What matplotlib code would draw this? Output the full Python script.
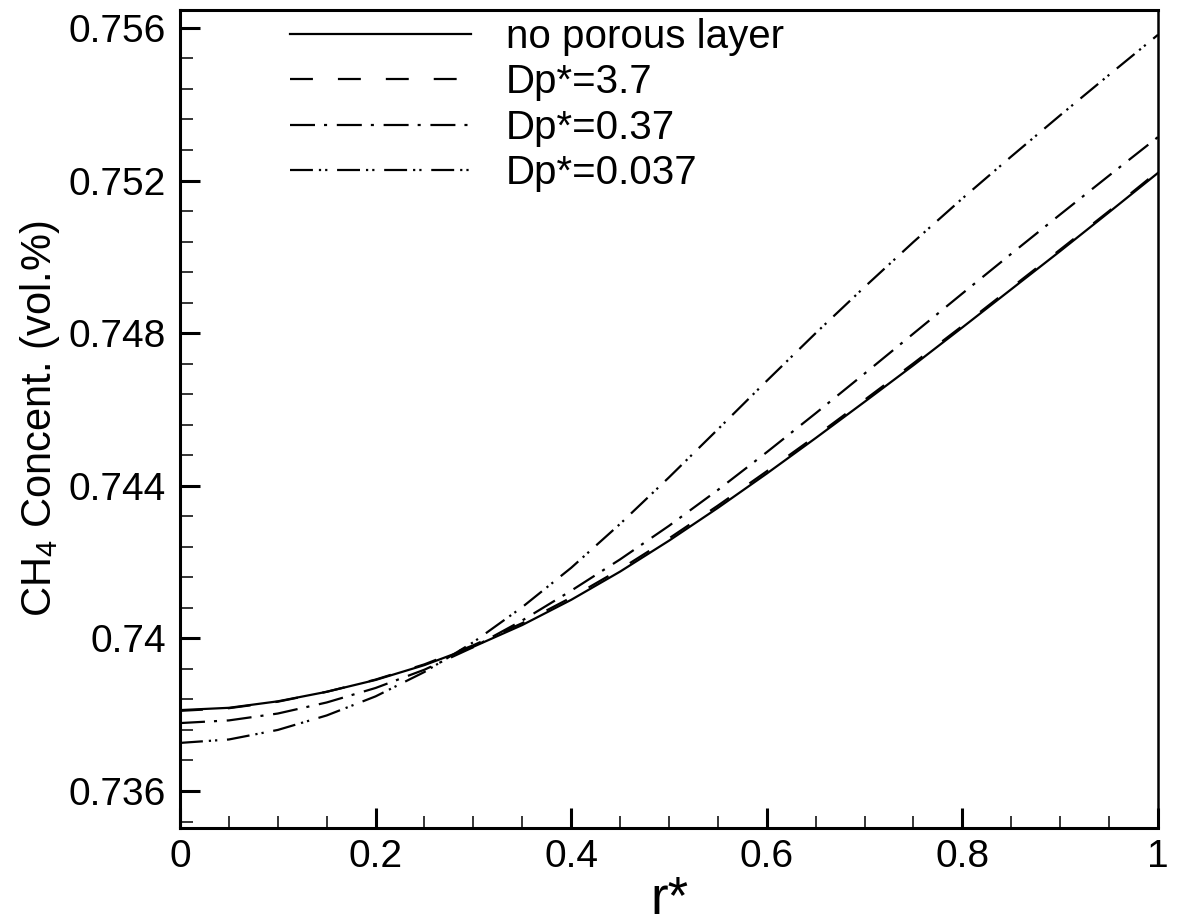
import matplotlib
matplotlib.use("Agg")
import matplotlib.pyplot as plt
from matplotlib.ticker import MultipleLocator, FixedLocator, FuncFormatter

plt.rcParams['font.family'] = ['Liberation Sans', 'DejaVu Sans']
plt.rcParams['mathtext.default'] = 'regular'
plt.rcParams['lines.scale_dashes'] = False

r = [0.0, 0.05, 0.1, 0.15, 0.2, 0.25, 0.3, 0.35, 0.4, 0.45, 0.5,
     0.55, 0.6, 0.65, 0.7, 0.75, 0.8, 0.85, 0.9, 0.95, 1.0]

no_porous = [0.73812, 0.73818, 0.73835, 0.73860, 0.73891, 0.73930, 0.73978,
             0.74035, 0.74101, 0.74175, 0.74256, 0.74342, 0.74432, 0.74525,
             0.74620, 0.74716, 0.74815, 0.74915, 0.75015, 0.75117, 0.75220]
dp_3_7 = [0.73810, 0.73817, 0.73834, 0.73860, 0.73892, 0.73932, 0.73982,
          0.74040, 0.74107, 0.74181, 0.74262, 0.74348, 0.74438, 0.74530,
          0.74625, 0.74721, 0.74819, 0.74919, 0.75019, 0.75120, 0.75224]
dp_0_37 = [0.73778, 0.73785, 0.73803, 0.73832, 0.73870, 0.73918, 0.73977,
           0.74047, 0.74125, 0.74207, 0.74295, 0.74389, 0.74488, 0.74590,
           0.74694, 0.74799, 0.74904, 0.75008, 0.75111, 0.75213, 0.75314]
dp_0_037 = [0.73726, 0.73735, 0.73760, 0.73798, 0.73848, 0.73912, 0.73990,
            0.74082, 0.74185, 0.74300, 0.74422, 0.74548, 0.74675, 0.74800,
            0.74921, 0.75039, 0.75153, 0.75263, 0.75371, 0.75477, 0.75582]

labels = ['no porous layer', 'Dp*=3.7', 'Dp*=0.37', 'Dp*=0.037']
x_ticks = [0, 0.2, 0.4, 0.6, 0.8, 1.0]
y_ticks = [0.736, 0.740, 0.744, 0.748, 0.752, 0.756]

fig = plt.figure(figsize=(11.78, 9.24), dpi=100)
ax = fig.add_axes([0.1528, 0.1039, 0.8302, 0.8853])

styles = [
    dict(linestyle='-'),
    dict(linestyle=(0, (16.5, 18.0))),
    dict(linestyle=(0, (18.0, 6.5, 2.2, 7.0))),
    dict(linestyle=(0, (16.5, 4.3, 1.6, 2.9, 1.6, 7.0))),
]
series = [no_porous, dp_3_7, dp_0_37, dp_0_037]
for ys, lab, st in zip(series, labels, styles):
    ax.plot(r, ys, color='black', linewidth=1.6, label=lab, **st)

ax.set_xlim(0, 1)
ax.set_ylim(0.73503, 0.75647)

ax.xaxis.set_major_locator(FixedLocator(x_ticks))
ax.xaxis.set_minor_locator(MultipleLocator(0.05))
ax.yaxis.set_major_locator(FixedLocator(y_ticks))
ax.yaxis.set_minor_locator(MultipleLocator(0.0008))
ax.xaxis.set_major_formatter(FuncFormatter(lambda v, p: '%g' % round(v, 6)))
ax.yaxis.set_major_formatter(FuncFormatter(lambda v, p: '%g' % round(v, 6)))

ax.tick_params(which='both', direction='in', top=False, right=False, colors='black')
ax.tick_params(which='major', length=14.5, width=2.2, labelsize=28)
ax.tick_params(which='minor', length=9, width=1.1)
ax.tick_params(axis='x', which='major', pad=8)
ax.tick_params(axis='y', which='major', pad=10)

for s in ['left', 'bottom', 'top']:
    ax.spines[s].set_linewidth(2.2)
ax.spines['right'].set_linewidth(1.8)

ax.set_xlabel('r*', fontsize=38, labelpad=0)
ax.set_ylabel('CH$_4$ Concent. (vol.%)', fontsize=30, labelpad=5)

leg = ax.legend(loc='upper left', bbox_to_anchor=(0.1125, 0.99), frameon=False,
                fontsize=29, handlelength=4.5, handletextpad=0.86,
                labelspacing=0.18, borderpad=0, borderaxespad=0)

fig.savefig('out.png', dpi=100)
